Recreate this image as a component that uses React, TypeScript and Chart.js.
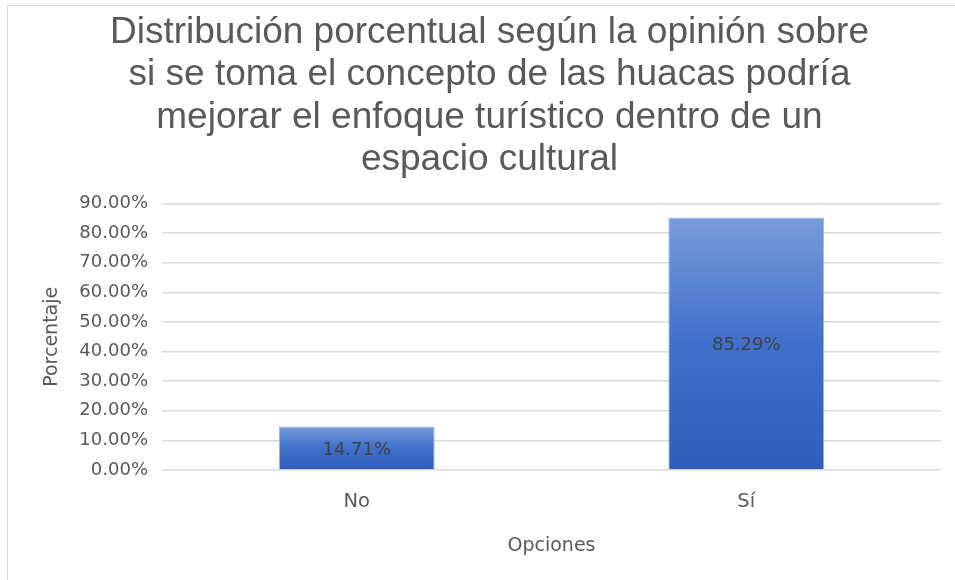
import React, { useEffect, useRef } from "react";
import { Chart, registerables } from "chart.js";

Chart.register(...registerables);

const titleLines = [
  "Distribución porcentual según la opinión sobre",
  "si se toma el concepto de las huacas podría",
  "mejorar el enfoque turístico dentro de un",
  "espacio cultural",
];
const categories = ["No", "Sí"];
const values = [14.71, 85.29];
const yMin = 0;
const yMax = 90;
const yStep = 10;
const yAxisTitle = "Porcentaje";
const xAxisTitle = "Opciones";

const TEXT = "#595959";
const FONT = "'DejaVu Sans', 'Open Sans', sans-serif";

const dataLabels = {
  id: "dataLabels",
  afterDatasetsDraw(chart: any) {
    const ctx = chart.ctx;
    const meta = chart.getDatasetMeta(0);
    ctx.save();
    ctx.font = `18px ${FONT}`;
    ctx.fillStyle = "#404040";
    ctx.textAlign = "center";
    ctx.textBaseline = "middle";
    meta.data.forEach((bar: any, i: number) => {
      const { x, y, base } = bar.getProps(["x", "y", "base"], true);
      ctx.fillText(values[i].toFixed(2) + "%", x, (y + base) / 2 + 2);
    });
    ctx.restore();
  },
};

export default function App() {
  const ref = useRef<HTMLCanvasElement | null>(null);
  useEffect(() => {
    if (!ref.current) return;
    const chart = new Chart(ref.current, {
      type: "bar",
      data: {
        labels: categories,
        datasets: [
          {
            data: values,
            backgroundColor: (c: any) => {
              const ch = c.chart;
              if (!ch.chartArea || c.type !== "data") return "#4472C4";
              const ys = ch.scales.y;
              const top = ys.getPixelForValue(c.parsed.y);
              const bot = ys.getPixelForValue(0);
              const g = ch.ctx.createLinearGradient(0, top, 0, bot);
              g.addColorStop(0, "#789bd9");
              g.addColorStop(0.5, "#3f70cc");
              g.addColorStop(1, "#2e5dbb");
              return g;
            },
            borderColor: "#9db4e2",
            borderWidth: 1,
            barPercentage: 0.4,
            categoryPercentage: 1,
          },
        ],
      },
      options: {
        animation: false,
        responsive: true,
        maintainAspectRatio: false,
        layout: { padding: { left: 38, right: 14, top: 0, bottom: 0 } },
        plugins: {
          legend: { display: false },
          tooltip: { enabled: false },
          title: {
            display: true,
            text: titleLines,
            color: TEXT,
            font: { family: "'Liberation Sans', Arial, sans-serif", size: 37, weight: "normal", lineHeight: 1.146 },
            padding: { top: 11.5, bottom: 22.5 },
          },
        },
        scales: {
          x: {
            grid: { display: false, drawTicks: false },
            border: { display: false },
            ticks: { color: TEXT, font: { family: FONT, size: 19.5 }, padding: 20 },
            title: {
              display: true,
              text: xAxisTitle,
              color: TEXT,
              font: { family: FONT, size: 19 },
              padding: { top: 10, bottom: 23 },
            },
            afterFit: (s: any) => {
              s.height = 580 - 470;
            },
          },
          y: {
            min: yMin,
            max: yMax,
            grid: { color: "#d9d9d9", lineWidth: 1.5, drawTicks: false },
            border: { display: false },
            ticks: {
              stepSize: yStep,
              color: TEXT,
              font: { family: FONT, size: 18 },
              padding: 14,
              callback: (v: any) => Number(v).toFixed(2) + "%",
            },
            title: {
              display: true,
              text: yAxisTitle,
              color: TEXT,
              font: { family: FONT, size: 19 },
              padding: { top: 3, bottom: 8 },
            },
            afterFit: (s: any) => {
              s.width = 162 - 38;
            },
          },
        },
      },
      plugins: [dataLabels],
    });
    return () => chart.destroy();
  }, []);
  return (
    <div style={{ position: "fixed", left: 0, top: 0, width: 955, height: 580, background: "#fff" }}>
      <div
        style={{
          position: "absolute",
          left: 7,
          top: 5,
          width: 1000,
          height: 700,
          border: "1px solid #d9d9d9",
          boxSizing: "border-box",
        }}
      />
      <canvas ref={ref} style={{ position: "absolute", left: 0, top: 0 }} />
    </div>
  );
}
